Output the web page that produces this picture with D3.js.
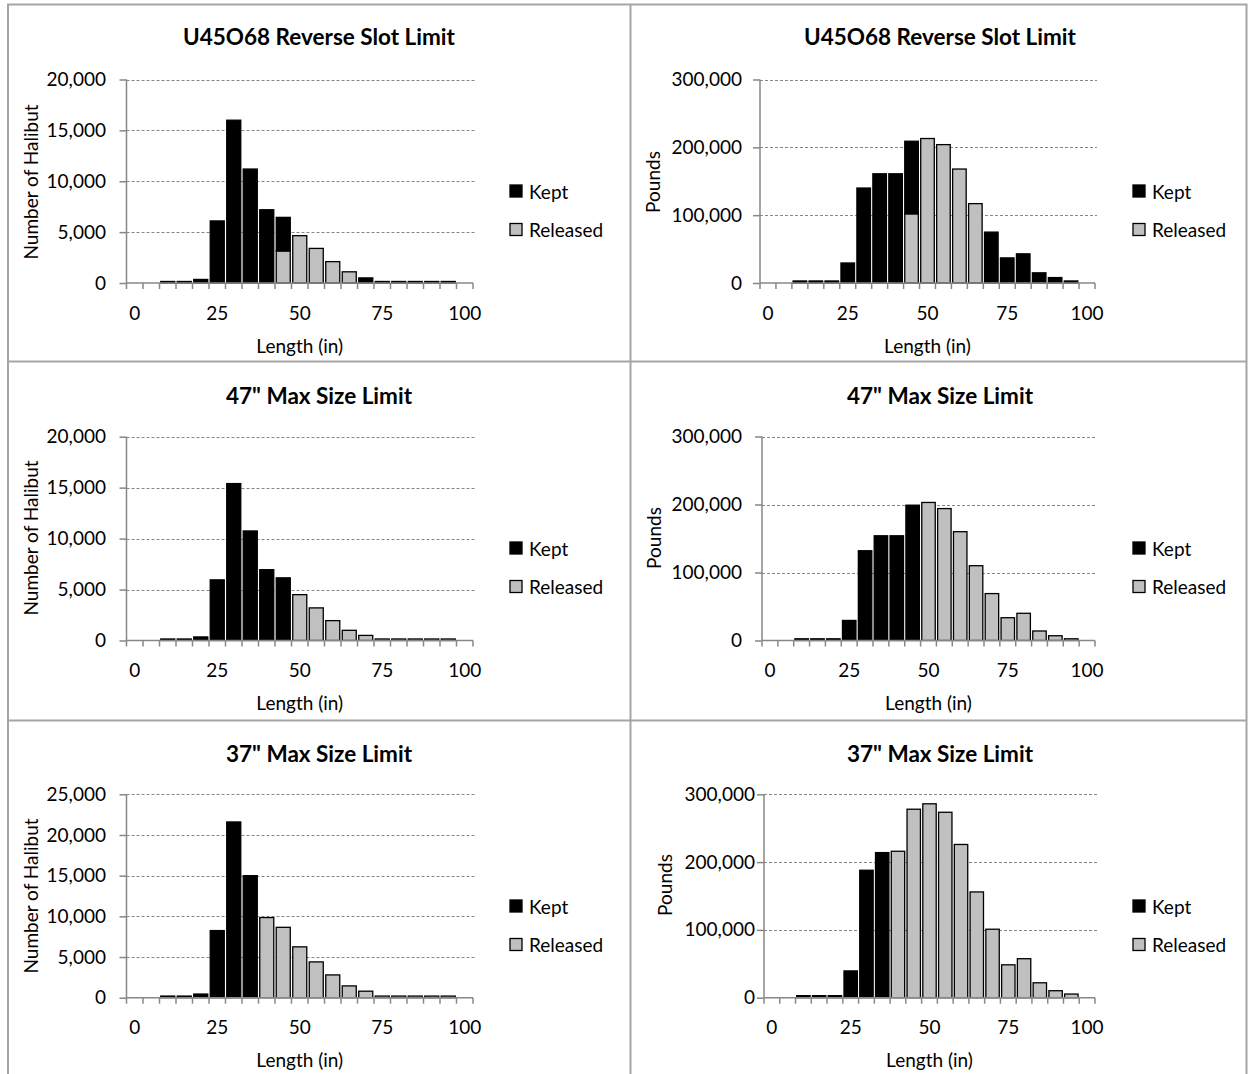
<!DOCTYPE html>
<html>
<head>
<meta charset="utf-8">
<script src="https://cdn.jsdelivr.net/npm/d3@7/dist/d3.min.js"></script>
<style>
  html, body { margin: 0; padding: 0; background: #fff; }
  svg { display: block; }
  text { font-family: Lato, "Open Sans", sans-serif; fill: #000; }
</style>
</head>
<body>
<svg id="chart" width="1248" height="1074"></svg>
<script>
// ---------- DATA ----------
const categories = [0, 5, 10, 15, 20, 25, 30, 35, 40, 45, 50, 55, 60, 65, 70, 75, 80, 85, 90, 95, 100];
const xTickLabels = [0, 25, 50, 75, 100];
const seriesNames = ["Kept", "Released"];

const titles = ["U45O68 Reverse Slot Limit", "U45O68 Reverse Slot Limit",
                "47\" Max Size Limit", "47\" Max Size Limit",
                "37\" Max Size Limit", "37\" Max Size Limit"];
const yTitles = ["Number of Halibut", "Pounds", "Number of Halibut", "Pounds", "Number of Halibut", "Pounds"];
const xTitle = "Length (in)";

const countTicks20k = [0, 5000, 10000, 15000, 20000];
const countTicks25k = [0, 5000, 10000, 15000, 20000, 25000];
const poundTicks = [0, 100000, 200000, 300000];

// U45O68 Reverse Slot Limit - number of halibut
const slotCountKept     = [0, 0, 150, 150, 350, 6100, 16000, 11200, 7200, 3300, 0, 0, 0, 0, 500, 150, 150, 150, 150, 150, 0];
const slotCountReleased = [0, 0, 0, 0, 0, 0, 0, 0, 0, 3150, 4650, 3400, 2100, 1100, 0, 0, 0, 0, 0, 0, 0];
// U45O68 Reverse Slot Limit - pounds
const slotPoundsKept     = [0, 0, 3000, 3000, 3000, 29500, 140000, 161000, 161000, 107000, 0, 0, 0, 0, 75000, 37000, 43000, 15000, 8000, 3000, 0];
const slotPoundsReleased = [0, 0, 0, 0, 0, 0, 0, 0, 0, 102000, 213000, 204000, 168000, 117000, 0, 0, 0, 0, 0, 0, 0];
// 47" Max Size Limit - number of halibut
const max47CountKept     = [0, 0, 150, 150, 350, 5950, 15400, 10750, 6950, 6150, 0, 0, 0, 0, 0, 0, 0, 0, 0, 0, 0];
const max47CountReleased = [0, 0, 0, 0, 0, 0, 0, 0, 0, 0, 4500, 3200, 1950, 1000, 500, 150, 150, 150, 150, 150, 0];
// 47" Max Size Limit - pounds
const max47PoundsKept     = [0, 0, 2500, 2500, 2500, 29500, 132000, 154000, 154000, 199000, 0, 0, 0, 0, 0, 0, 0, 0, 0, 0, 0];
const max47PoundsReleased = [0, 0, 0, 0, 0, 0, 0, 0, 0, 0, 203000, 194000, 160000, 110000, 69000, 33500, 40000, 14000, 7000, 2500, 0];
// 37" Max Size Limit - number of halibut
const max37CountKept     = [0, 0, 200, 200, 450, 8250, 21600, 15000, 0, 0, 0, 0, 0, 0, 0, 0, 0, 0, 0, 0, 0];
const max37CountReleased = [0, 0, 0, 0, 0, 0, 0, 0, 9850, 8650, 6250, 4400, 2800, 1450, 800, 200, 200, 200, 200, 200, 0];
// 37" Max Size Limit - pounds
const max37PoundsKept     = [0, 0, 3000, 3000, 3000, 39500, 188000, 214000, 0, 0, 0, 0, 0, 0, 0, 0, 0, 0, 0, 0, 0];
const max37PoundsReleased = [0, 0, 0, 0, 0, 0, 0, 0, 216000, 278000, 286000, 273500, 226000, 156000, 101000, 48500, 57500, 22000, 10300, 5400, 0];

// ---------- LAYOUT ----------
const panels = [
  { kept: slotCountKept,  rel: slotCountReleased,  ticks: countTicks20k,
    x0: 126.5, x1: 473, y0: 283, y1: 79.5, labelRight: 106, titleX: 319, titleY: 36,
    yTitleX: 30, yTitleY: 182, legX: 510, legY: 191 },
  { kept: slotPoundsKept, rel: slotPoundsReleased, ticks: poundTicks,
    x0: 760, x1: 1095, y0: 283, y1: 79.5, labelRight: 742, titleX: 940, titleY: 36,
    yTitleX: 652, yTitleY: 182, legX: 1133, legY: 191 },
  { kept: max47CountKept,  rel: max47CountReleased,  ticks: countTicks20k,
    x0: 126.5, x1: 473, y0: 640.5, y1: 436.7, labelRight: 106, titleX: 319, titleY: 395,
    yTitleX: 30, yTitleY: 538, legX: 510, legY: 548 },
  { kept: max47PoundsKept, rel: max47PoundsReleased, ticks: poundTicks,
    x0: 762, x1: 1095, y0: 640.5, y1: 436.5, labelRight: 742, titleX: 940, titleY: 395,
    yTitleX: 653, yTitleY: 538, legX: 1133, legY: 548 },
  { kept: max37CountKept,  rel: max37CountReleased,  ticks: countTicks25k,
    x0: 126.5, x1: 473, y0: 997.7, y1: 794.3, labelRight: 106, titleX: 319, titleY: 753,
    yTitleX: 30, yTitleY: 896, legX: 510, legY: 906 },
  { kept: max37PoundsKept, rel: max37PoundsReleased, ticks: poundTicks,
    x0: 764, x1: 1095, y0: 997.7, y1: 794.3, labelRight: 755, titleX: 940, titleY: 753,
    yTitleX: 664, yTitleY: 885, legX: 1133, legY: 906 }
];

const KEPT_COLOR = "#000000";
const REL_COLOR = "#c0c0c0";
const AXIS_COLOR = "#878787";
const BORDER_COLOR = "#a5a5a5";
const FS = 19;

const svg = d3.select("#chart");

// panel frames
svg.append("rect").attr("x", 8).attr("y", 4.5).attr("width", 1238.5).attr("height", 1080)
  .attr("fill", "none").attr("stroke", BORDER_COLOR).attr("stroke-width", 2);
svg.append("line").attr("x1", 630.5).attr("x2", 630.5).attr("y1", 4).attr("y2", 1074)
  .attr("stroke", BORDER_COLOR).attr("stroke-width", 2);
[361.5, 720.5].forEach(y => {
  svg.append("line").attr("x1", 8).attr("x2", 1247).attr("y1", y).attr("y2", y)
    .attr("stroke", BORDER_COLOR).attr("stroke-width", 2);
});

const fmt = d3.format(",");

panels.forEach((p, i) => {
  const g = svg.append("g");
  const x = d3.scaleBand().domain(categories).range([p.x0, p.x1]).paddingInner(0.15).paddingOuter(0.075);
  const yMax = p.ticks[p.ticks.length - 1];
  const y = d3.scaleLinear().domain([0, yMax]).range([p.y0, p.y1]);

  // gridlines
  g.selectAll(".grid").data(p.ticks.filter(t => t > 0)).join("line")
    .attr("x1", p.x0).attr("x2", p.x1 + 2)
    .attr("y1", d => Math.round(y(d)) + 0.5).attr("y2", d => Math.round(y(d)) + 0.5)
    .attr("stroke", AXIS_COLOR).attr("stroke-width", 1).attr("stroke-dasharray", "3,2");

  // stacked bars: Released at bottom, Kept on top
  const rows = categories.map((c, k) => ({ cat: c, Released: p.rel[k], Kept: p.kept[k] }));
  const stack = d3.stack().keys(["Released", "Kept"])(rows);
  stack.forEach(layer => {
    g.selectAll(null).data(layer.filter(d => d[1] - d[0] > 0)).join("rect")
      .attr("x", d => x(d.data.cat))
      .attr("width", x.bandwidth())
      .attr("y", d => y(d[1]))
      .attr("height", d => y(d[0]) - y(d[1]))
      .attr("fill", layer.key === "Kept" ? KEPT_COLOR : REL_COLOR)
      .attr("stroke", "#000").attr("stroke-width", 1.3);
  });

  // y axis
  const yAxis = d3.axisLeft(y).tickValues(p.ticks).tickFormat(fmt).tickSize(7).tickPadding(p.x0 - 7 - p.labelRight);
  const ya = g.append("g").attr("transform", `translate(${p.x0},0)`).call(yAxis);
  ya.select(".domain").attr("stroke", AXIS_COLOR).attr("stroke-width", 1.5).attr("d", `M0,${p.y0}V${p.y1}`);
  ya.selectAll(".tick line").attr("stroke", AXIS_COLOR).attr("stroke-width", 1.5);
  ya.selectAll(".tick text").attr("font-size", FS).attr("font-family", "Lato").attr("fill", "#000");

  // x axis
  const step = x.step();
  const start = x(categories[0]) - x.paddingInner() * step / 2;
  const boundaries = d3.range(categories.length + 1).map(k => start + k * step);
  const xa = g.append("g");
  xa.append("line").attr("x1", p.x0).attr("x2", p.x1).attr("y1", p.y0).attr("y2", p.y0)
    .attr("stroke", AXIS_COLOR).attr("stroke-width", 1.5);
  xa.selectAll(".xt").data(boundaries).join("line")
    .attr("x1", d => d).attr("x2", d => d).attr("y1", p.y0).attr("y2", p.y0 + 6)
    .attr("stroke", AXIS_COLOR).attr("stroke-width", 1.5);
  xa.selectAll(".xl").data(xTickLabels).join("text")
    .attr("x", d => x(d) + x.bandwidth() / 2).attr("y", p.y0 + 29)
    .attr("text-anchor", "middle").attr("dominant-baseline", "central")
    .attr("font-size", FS).text(d => d);

  // x title
  g.append("text").attr("x", (p.x0 + p.x1) / 2).attr("y", p.y0 + 62)
    .attr("text-anchor", "middle").attr("dominant-baseline", "central")
    .attr("font-size", FS).text(xTitle);

  // y title
  g.append("text").attr("transform", `translate(${p.yTitleX},${p.yTitleY}) rotate(-90)`)
    .attr("text-anchor", "middle").attr("dominant-baseline", "central")
    .attr("font-size", FS).text(yTitles[i]);

  // chart title
  g.append("text").attr("x", p.titleX).attr("y", p.titleY)
    .attr("text-anchor", "middle").attr("dominant-baseline", "central")
    .attr("font-size", 22.5).attr("font-weight", "bold").text(titles[i]);

  // legend
  seriesNames.forEach((s, k) => {
    const ly = p.legY + k * 38.5;
    g.append("rect").attr("x", p.legX).attr("y", ly - 6).attr("width", 12).attr("height", 12)
      .attr("fill", s === "Kept" ? KEPT_COLOR : REL_COLOR).attr("stroke", "#000").attr("stroke-width", 1.3);
    g.append("text").attr("x", p.legX + 19).attr("y", ly)
      .attr("dominant-baseline", "central").attr("font-size", FS).text(s);
  });
});
</script>
</body>
</html>
